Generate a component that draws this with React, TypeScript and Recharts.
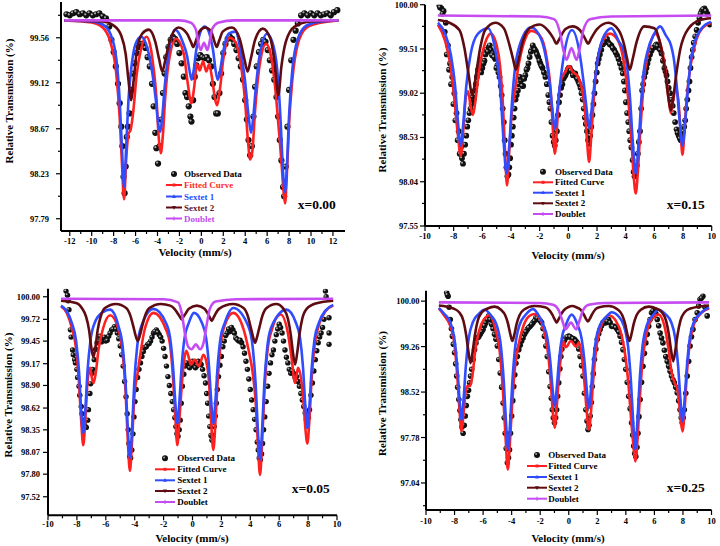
import React from 'react';
import { ComposedChart, Line, Scatter, XAxis, YAxis } from 'recharts';

type Pt = [number, number];

// ---------------- x = 0.00 (top left) ----------------
const obs000: Pt[] = [
  [-12.3, 99.79], [-12.0, 99.78], [-11.7, 99.8], [-11.4, 99.81], [-11.1, 99.79], [-10.8, 99.8], [-10.5, 99.78],
  [-10.2, 99.8], [-9.9, 99.78], [-9.6, 99.79], [-9.3, 99.8], [-9.0, 99.77], [-8.7, 99.75], [-8.4, 99.67],
  [-8.2, 99.54], [-8.0, 99.42], [-7.8, 99.28], [-7.6, 99.11], [-7.45, 98.92], [-7.3, 98.69], [-7.2, 98.5],
  [-7.1, 98.2], [-7.0, 98.04], [-6.9, 98.3], [-6.8, 98.59], [-6.7, 98.69], [-6.55, 98.82], [-6.4, 99.05],
  [-6.25, 99.21], [-6.1, 99.31], [-5.9, 99.41], [-5.7, 99.47], [-5.5, 99.5], [-5.3, 99.5], [-5.1, 99.46],
  [-4.9, 99.37], [-4.7, 99.28], [-4.5, 99.11], [-4.35, 98.89], [-4.2, 98.63], [-4.1, 98.48], [-3.95, 98.33],
  [-3.8, 98.5], [-3.65, 98.76], [-3.5, 99.02], [-3.35, 99.21], [-3.2, 99.37], [-3.0, 99.47], [-2.8, 99.54],
  [-2.6, 99.57], [-2.4, 99.55], [-2.2, 99.5], [-2.0, 99.41], [-1.8, 99.31], [-1.6, 99.18], [-1.45, 99.02],
  [-1.3, 98.98], [-1.15, 98.89], [-1.0, 98.79], [-0.9, 98.74], [-0.75, 98.95], [-0.6, 99.18], [-0.45, 99.29],
  [-0.3, 99.36], [-0.1, 99.39], [0.1, 99.37], [0.3, 99.36], [0.5, 99.37], [0.7, 99.34], [0.9, 99.28],
  [1.05, 99.11], [1.2, 98.98], [1.35, 98.82], [1.5, 98.82], [1.65, 99.02], [1.8, 99.21], [2.0, 99.41],
  [2.2, 99.5], [2.4, 99.55], [2.6, 99.57], [2.8, 99.55], [3.0, 99.5], [3.2, 99.44], [3.4, 99.36], [3.6, 99.28],
  [3.8, 99.15], [4.0, 98.95], [4.15, 98.76], [4.3, 98.56], [4.45, 98.41], [4.6, 98.5], [4.75, 98.79],
  [4.9, 99.08], [5.05, 99.28], [5.25, 99.42], [5.45, 99.5], [5.65, 99.54], [5.85, 99.52], [6.05, 99.44],
  [6.25, 99.34], [6.45, 99.24], [6.65, 99.15], [6.85, 98.98], [7.0, 98.79], [7.15, 98.56], [7.3, 98.36],
  [7.45, 98.1], [7.55, 98.01], [7.7, 98.3], [7.85, 98.69], [8.0, 99.05], [8.2, 99.34], [8.4, 99.54],
  [8.6, 99.63], [8.8, 99.7], [9.1, 99.78], [9.4, 99.8], [9.7, 99.78], [10.0, 99.8], [10.3, 99.78],
  [10.6, 99.8], [10.9, 99.78], [11.2, 99.79], [11.5, 99.8], [11.8, 99.78], [12.1, 99.81], [12.4, 99.83],
];
const obs000b: Pt[] = [];
const fit000: Pt[] = [
  [-12.5, 99.73], [-10, 99.71], [-9, 99.66], [-8.3, 99.52], [-7.75, 99.2], [-7.45, 98.78], [-7.25, 98.35],
  [-7.05, 97.98], [-6.85, 98.38], [-6.65, 98.62], [-6.45, 98.66], [-6.2, 98.85], [-5.9, 99.2], [-5.5, 99.45],
  [-5.0, 99.57], [-4.6, 99.45], [-4.4, 99.3], [-4.1, 98.98], [-3.9, 98.6], [-3.7, 98.43], [-3.5, 98.62],
  [-3.3, 98.97], [-3.0, 99.3], [-2.3, 99.55], [-1.6, 99.4], [-1.25, 99.12], [-0.9, 98.92], [-0.65, 99.08],
  [-0.4, 99.3], [-0.15, 99.24], [0.15, 99.33], [0.45, 99.23], [0.7, 99.3], [1.0, 99.15], [1.25, 98.96],
  [1.45, 98.9], [1.7, 99.06], [2.0, 99.35], [2.6, 99.56], [3.1, 99.52], [3.6, 99.3], [4.0, 98.92],
  [4.25, 98.55], [4.45, 98.37], [4.65, 98.45], [4.9, 98.85], [5.3, 99.28], [5.9, 99.5], [6.4, 99.35],
  [6.8, 99.0], [7.05, 98.68], [7.3, 98.35], [7.5, 98.05], [7.63, 97.94], [7.8, 98.22], [8.0, 98.72],
  [8.3, 99.15], [8.8, 99.5], [9.6, 99.66], [11, 99.71], [12.5, 99.73],
];
const sxa000: Pt[] = [
  [-12.5, 99.73], [-10, 99.72], [-9, 99.69], [-8.3, 99.6], [-7.75, 99.35], [-7.45, 98.95], [-7.25, 98.5],
  [-7.05, 98.1], [-6.85, 98.5], [-6.65, 98.95], [-6.35, 99.3], [-6.0, 99.5], [-5.5, 99.57], [-4.9, 99.45],
  [-4.45, 99.2], [-4.15, 98.95], [-3.97, 98.75], [-3.77, 98.64], [-3.57, 98.78], [-3.37, 99.05], [-3.0, 99.4],
  [-2.4, 99.64], [-1.7, 99.52], [-1.3, 99.38], [-1.05, 99.22], [-0.88, 99.15], [-0.7, 99.24], [-0.45, 99.45],
  [0.3, 99.67], [1.05, 99.45], [1.3, 99.24], [1.49, 99.15], [1.68, 99.22], [1.95, 99.4], [2.5, 99.6],
  [3.1, 99.62], [3.6, 99.42], [4.0, 99.12], [4.3, 98.8], [4.53, 98.63], [4.73, 98.78], [4.95, 99.05],
  [5.3, 99.38], [6.0, 99.6], [6.6, 99.47], [7.0, 99.15], [7.25, 98.7], [7.45, 98.25], [7.63, 98.05],
  [7.8, 98.3], [8.0, 98.8], [8.3, 99.25], [8.8, 99.55], [9.6, 99.68], [11, 99.72], [12.5, 99.73],
];
const sxb000: Pt[] = [
  [-12.5, 99.73], [-9, 99.72], [-8, 99.68], [-7.3, 99.58], [-6.9, 99.4], [-6.65, 99.15], [-6.41, 98.95],
  [-6.17, 99.15], [-5.9, 99.42], [-5.4, 99.6], [-4.8, 99.64], [-4.2, 99.52], [-3.85, 99.35], [-3.56, 99.23],
  [-3.27, 99.35], [-2.9, 99.52], [-2.1, 99.66], [-1.3, 99.6], [-0.95, 99.52], [-0.73, 99.47], [-0.5, 99.53],
  [-0.2, 99.62], [0.35, 99.66], [0.9, 99.62], [1.2, 99.52], [1.4, 99.47], [1.62, 99.53], [1.95, 99.62],
  [2.8, 99.66], [3.5, 99.55], [3.95, 99.34], [4.22, 99.23], [4.5, 99.35], [4.9, 99.54], [5.6, 99.65],
  [6.3, 99.55], [6.7, 99.3], [7.02, 99.0], [7.3, 99.28], [7.7, 99.52], [8.5, 99.67], [10, 99.72], [12.5, 99.73],
];
const dbl000: Pt[] = [
  [-12.5, 99.73], [-2, 99.73], [-1, 99.71], [-0.5, 99.64], [-0.25, 99.5], [-0.06, 99.44], [0.24, 99.51],
  [0.54, 99.44], [0.75, 99.52], [1.0, 99.65], [1.6, 99.71], [3, 99.73], [12.5, 99.73],
];
const yMaj000 = [97.79, 98.23, 98.67, 99.12, 99.56];
const yMin000 = [98.01, 98.45, 98.9, 99.34, 99.78];

// ---------------- x = 0.15 (top right) ----------------
const obs015: Pt[] = [
  [-9.0, 99.99], [-8.85, 99.96], [-8.7, 99.93], [-8.55, 99.8], [-8.4, 99.55], [-8.25, 99.35], [-8.1, 99.2],
  [-7.95, 99.02], [-7.8, 98.8], [-7.65, 98.6], [-7.5, 98.42], [-7.35, 98.24], [-7.2, 98.45], [-7.05, 98.65],
  [-6.9, 98.8], [-6.75, 98.9], [-6.6, 98.95], [-6.45, 99.12], [-6.3, 99.28], [-6.15, 99.38], [-6.0, 99.3],
  [-5.85, 99.38], [-5.7, 99.5], [-5.55, 99.53], [-5.4, 99.5], [-5.25, 99.46], [-5.1, 99.4], [-4.95, 99.33],
  [-4.8, 99.2], [-4.65, 99.0], [-4.5, 98.7], [-4.38, 98.35], [-4.25, 98.1], [-4.12, 98.2], [-4.0, 98.45],
  [-3.87, 98.65], [-3.75, 98.85], [-3.6, 99.0], [-3.45, 99.12], [-3.3, 99.16], [-3.15, 99.1], [-3.0, 99.22],
  [-2.85, 99.3], [-2.7, 99.42], [-2.55, 99.5], [-2.4, 99.52], [-2.25, 99.48], [-2.1, 99.42], [-1.95, 99.35],
  [-1.8, 99.3], [-1.6, 99.2], [-1.4, 99.0], [-1.25, 98.85], [-1.1, 98.55], [-0.95, 98.44], [-0.8, 98.6],
  [-0.65, 98.92], [-0.5, 99.08], [-0.35, 99.18], [-0.2, 99.22], [-0.05, 99.28], [0.1, 99.3], [0.25, 99.26],
  [0.4, 99.23], [0.55, 99.2], [0.7, 99.15], [0.85, 99.08], [1.0, 98.95], [1.15, 98.75], [1.3, 98.6],
  [1.45, 98.46], [1.6, 98.65], [1.75, 98.9], [1.9, 99.15], [2.05, 99.35], [2.2, 99.45], [2.4, 99.56],
  [2.6, 99.6], [2.8, 99.58], [3.0, 99.55], [3.2, 99.5], [3.4, 99.44], [3.6, 99.35], [3.8, 99.24],
  [3.95, 99.05], [4.1, 98.8], [4.25, 98.6], [4.4, 98.42], [4.55, 98.15], [4.7, 98.13], [4.85, 98.35],
  [5.0, 98.6], [5.15, 99.05], [5.3, 99.2], [5.45, 99.3], [5.6, 99.4], [5.8, 99.49], [6.0, 99.53],
  [6.15, 99.56], [6.3, 99.52], [6.5, 99.46], [6.7, 99.3], [6.85, 99.22], [7.0, 99.08], [7.2, 98.95],
  [7.35, 98.8], [7.55, 98.62], [7.7, 98.55], [7.85, 98.5], [8.0, 98.6], [8.15, 98.72], [8.3, 98.95],
  [8.45, 99.15], [8.6, 99.42], [8.75, 99.58], [8.95, 99.72], [9.15, 99.85], [9.3, 99.93], [9.5, 99.96],
  [9.7, 99.9], [9.87, 99.78],
];
const obs015b: Pt[] = [
  [-8.95, 99.97], [-8.78, 99.9], [-8.62, 99.7], [-8.48, 99.45], [-8.32, 99.28], [-8.18, 99.12], [-8.02, 98.9],
  [-7.88, 98.72], [-7.72, 98.5], [-7.58, 98.35], [-7.42, 98.3], [-7.28, 98.35], [-7.12, 98.55], [-6.98, 98.72],
  [-6.82, 98.85], [-6.68, 98.98], [-6.52, 99.05], [-6.38, 99.2], [-6.22, 99.32], [-6.08, 99.25], [-5.92, 99.35],
  [-5.78, 99.45], [-5.62, 99.48], [-5.48, 99.55], [-5.32, 99.44], [-5.18, 99.42], [-5.02, 99.3], [-4.88, 99.25],
  [-4.72, 99.1], [-4.58, 98.85], [-4.44, 98.5], [-4.32, 98.2], [-4.18, 98.12], [-4.06, 98.3], [-3.94, 98.55],
  [-3.81, 98.75], [-3.68, 98.95], [-3.52, 99.05], [-3.38, 99.2], [-3.22, 99.1], [-3.08, 99.18], [-2.92, 99.28],
  [-2.78, 99.35], [-2.62, 99.48], [-2.48, 99.55], [-2.32, 99.5], [-2.18, 99.45], [-2.02, 99.38], [-1.88, 99.32],
  [-1.7, 99.25], [-1.5, 99.12], [-1.32, 98.92], [-1.18, 98.7], [-1.02, 98.48], [-0.88, 98.5], [-0.72, 98.78],
  [-0.58, 99.0], [-0.42, 99.12], [-0.28, 99.2], [-0.12, 99.25], [0.02, 99.3], [0.18, 99.27], [0.32, 99.22],
  [0.48, 99.24], [0.62, 99.18], [0.78, 99.12], [0.92, 99.02], [1.08, 98.85], [1.22, 98.68], [1.38, 98.5],
  [1.52, 98.55], [1.68, 98.78], [1.82, 99.02], [1.98, 99.25], [2.12, 99.4], [2.3, 99.5], [2.5, 99.58],
  [2.7, 99.62], [2.9, 99.56], [3.1, 99.52], [3.3, 99.47], [3.5, 99.4], [3.7, 99.3], [3.88, 99.15],
  [4.02, 98.92], [4.18, 98.7], [4.32, 98.5], [4.48, 98.28], [4.62, 98.1], [4.78, 98.22], [4.92, 98.48],
  [5.08, 98.85], [5.22, 99.12], [5.38, 99.25], [5.52, 99.35], [5.7, 99.45], [5.9, 99.52], [6.08, 99.55],
  [6.22, 99.54], [6.4, 99.5], [6.6, 99.38], [6.78, 99.26], [6.92, 99.15], [7.1, 99.02], [7.28, 98.88],
  [7.45, 98.7], [7.62, 98.58], [7.78, 98.52], [7.92, 98.55], [8.08, 98.65], [8.22, 98.85], [8.38, 99.05],
  [8.52, 99.3], [8.68, 99.5], [8.85, 99.65], [9.05, 99.8], [9.22, 99.9], [9.4, 99.95], [9.6, 99.93],
];
const fit015: Pt[] = [
  [-9.1, 99.78], [-8.6, 99.6], [-8.25, 99.35], [-7.95, 98.95], [-7.72, 98.58], [-7.51, 98.33], [-7.32, 98.62],
  [-7.15, 98.98], [-7.0, 99.04], [-6.82, 98.88], [-6.65, 98.78], [-6.45, 98.98], [-6.2, 99.3], [-5.8, 99.58],
  [-5.4, 99.68], [-5.0, 99.55], [-4.75, 99.3], [-4.55, 98.85], [-4.42, 98.4], [-4.28, 98.0], [-4.12, 98.38],
  [-3.95, 98.8], [-3.75, 99.02], [-3.5, 99.3], [-3.1, 99.58], [-2.6, 99.71], [-2.0, 99.66], [-1.5, 99.4],
  [-1.2, 98.98], [-1.08, 98.62], [-0.94, 98.35], [-0.8, 98.62], [-0.68, 98.95], [-0.47, 99.19], [-0.24, 99.25],
  [0.05, 99.32], [0.33, 99.25], [0.6, 99.22], [0.9, 99.1], [1.15, 98.85], [1.3, 98.5], [1.45, 98.26],
  [1.6, 98.55], [1.75, 98.9], [1.96, 99.3], [2.4, 99.6], [2.9, 99.68], [3.4, 99.62], [3.82, 99.41],
  [4.15, 99.0], [4.4, 98.5], [4.55, 98.12], [4.7, 97.91], [4.85, 98.15], [5.0, 98.55], [5.3, 99.2],
  [5.7, 99.56], [6.05, 99.68], [6.4, 99.58], [6.75, 99.3], [7.0, 98.95], [7.15, 98.8], [7.32, 98.95],
  [7.5, 99.08], [7.7, 98.9], [7.83, 98.6], [7.96, 98.34], [8.1, 98.6], [8.25, 98.95], [8.5, 99.3],
  [8.94, 99.62], [9.4, 99.75], [9.98, 99.8],
];
const sxa015: Pt[] = [
  [-9.1, 99.8], [-8.6, 99.68], [-8.2, 99.45], [-7.9, 99.1], [-7.71, 98.72], [-7.51, 98.44], [-7.31, 98.72],
  [-7.12, 99.1], [-6.82, 99.45], [-6.3, 99.68], [-5.6, 99.74], [-5.1, 99.5], [-4.91, 99.31], [-4.71, 98.97],
  [-4.51, 98.47], [-4.31, 98.13], [-4.11, 98.47], [-3.91, 98.97], [-3.71, 99.31], [-3.4, 99.55], [-2.6, 99.75],
  [-1.9, 99.62], [-1.55, 99.4], [-1.3, 99.12], [-1.12, 98.85], [-0.94, 98.63], [-0.76, 98.85], [-0.58, 99.12],
  [-0.33, 99.42], [0.25, 99.72], [0.83, 99.42], [1.08, 99.12], [1.27, 98.85], [1.45, 98.63], [1.63, 98.85],
  [1.82, 99.12], [2.07, 99.42], [2.5, 99.66], [3.0, 99.74], [3.5, 99.6], [3.9, 99.47], [4.1, 99.31],
  [4.3, 98.97], [4.5, 98.47], [4.7, 98.13], [4.9, 98.47], [5.1, 98.97], [5.3, 99.31], [5.5, 99.47],
  [6.0, 99.68], [6.4, 99.76], [6.8, 99.66], [7.16, 99.55], [7.36, 99.4], [7.56, 99.1], [7.76, 98.72],
  [7.96, 98.44], [8.16, 98.72], [8.36, 99.1], [8.56, 99.4], [8.76, 99.55], [9.3, 99.74], [9.95, 99.81],
];
const sxb015: Pt[] = [
  [-9.1, 99.83], [-8.3, 99.8], [-7.6, 99.72], [-7.25, 99.52], [-6.98, 99.25], [-6.7, 99.0], [-6.42, 99.25],
  [-6.15, 99.52], [-5.8, 99.72], [-5.1, 99.8], [-4.5, 99.74], [-4.1, 99.55], [-3.86, 99.4], [-3.66, 99.28],
  [-3.46, 99.4], [-3.2, 99.58], [-2.7, 99.74], [-2.0, 99.78], [-1.4, 99.71], [-1.05, 99.63], [-0.83, 99.57],
  [-0.6, 99.63], [-0.2, 99.73], [0.3, 99.76], [0.8, 99.72], [1.15, 99.63], [1.38, 99.57], [1.6, 99.63],
  [2.0, 99.73], [2.8, 99.8], [3.5, 99.72], [3.9, 99.55], [4.1, 99.4], [4.29, 99.28], [4.49, 99.4],
  [4.75, 99.58], [5.3, 99.76], [6.0, 99.74], [6.5, 99.5], [6.78, 99.22], [6.98, 98.97], [7.15, 98.83],
  [7.32, 98.97], [7.52, 99.22], [7.8, 99.5], [8.4, 99.74], [9.2, 99.83], [9.95, 99.85],
];
const dbl015: Pt[] = [
  [-9.1, 99.88], [-2, 99.87], [-1.0, 99.84], [-0.6, 99.7], [-0.35, 99.5], [-0.13, 99.39], [0.22, 99.52],
  [0.57, 99.39], [0.8, 99.52], [1.05, 99.72], [1.5, 99.84], [3, 99.87], [9.98, 99.88],
];
const yMaj015 = [97.55, 98.04, 98.53, 99.02, 99.51, 100.0];
const yMin015 = [97.8, 98.29, 98.78, 99.27, 99.76];

// ---------------- x = 0.05 (bottom left) ----------------
const obs005: Pt[] = [
  [-8.75, 100.07], [-8.65, 100.02], [-8.55, 99.84], [-8.45, 99.59], [-8.3, 99.34], [-8.15, 99.22], [-8.0, 99.1],
  [-7.85, 98.89], [-7.7, 98.64], [-7.55, 98.47], [-7.4, 98.39], [-7.25, 98.47], [-7.1, 98.8], [-6.95, 99.05],
  [-6.8, 99.22], [-6.6, 99.43], [-6.4, 99.51], [-6.2, 99.49], [-6.0, 99.45], [-5.8, 99.51], [-5.6, 99.59],
  [-5.4, 99.63], [-5.2, 99.55], [-5.0, 99.39], [-4.8, 99.14], [-4.6, 98.76], [-4.45, 98.35], [-4.35, 98.02],
  [-4.2, 98.1], [-4.05, 98.51], [-3.9, 98.85], [-3.7, 99.1], [-3.5, 99.26], [-3.3, 99.37], [-3.1, 99.41],
  [-2.9, 99.45], [-2.7, 99.55], [-2.5, 99.59], [-2.3, 99.53], [-2.1, 99.45], [-1.9, 99.26], [-1.7, 99.01],
  [-1.5, 98.8], [-1.3, 98.6], [-1.15, 98.39], [-1.0, 98.27], [-0.85, 98.47], [-0.7, 98.89], [-0.5, 99.14],
  [-0.3, 99.16], [-0.1, 99.14], [0.1, 99.18], [0.3, 99.14], [0.5, 99.18], [0.7, 99.1], [0.9, 98.93],
  [1.05, 98.68], [1.2, 98.39], [1.35, 98.22], [1.5, 98.39], [1.65, 98.68], [1.8, 99.01], [2.0, 99.26],
  [2.2, 99.45], [2.4, 99.55], [2.6, 99.57], [2.8, 99.59], [3.0, 99.49], [3.2, 99.45], [3.4, 99.43],
  [3.6, 99.3], [3.8, 99.1], [4.0, 98.85], [4.2, 98.6], [4.4, 98.35], [4.55, 98.1], [4.7, 97.98],
  [4.85, 98.18], [5.0, 98.51], [5.2, 98.89], [5.4, 99.18], [5.6, 99.34], [5.8, 99.53], [6.0, 99.66],
  [6.2, 99.55], [6.4, 99.34], [6.6, 99.18], [6.8, 99.05], [7.0, 99.05], [7.2, 99.01], [7.4, 98.89],
  [7.6, 98.72], [7.8, 98.56], [7.95, 98.43], [8.1, 98.6], [8.3, 98.93], [8.5, 99.22], [8.7, 99.43],
  [8.9, 99.55], [9.1, 99.72], [9.2, 100.07], [9.25, 100.0], [9.45, 99.74], [9.45, 99.55], [9.45, 99.41],
];
const obs005b: Pt[] = [
  [-8.6, 99.95], [-8.4, 99.5], [-8.25, 99.28], [-8.1, 99.18], [-7.95, 99.0], [-7.8, 98.78], [-7.65, 98.55],
  [-7.5, 98.42], [-7.35, 98.38], [-7.2, 98.6], [-7.05, 98.92], [-6.9, 99.1], [-6.7, 99.35], [-6.5, 99.45],
  [-6.3, 99.44], [-6.1, 99.5], [-5.9, 99.46], [-5.7, 99.55], [-5.5, 99.6], [-5.3, 99.6], [-5.1, 99.48],
  [-4.9, 99.28], [-4.7, 98.95], [-4.52, 98.55], [-4.4, 98.18], [-4.28, 98.0], [-4.12, 98.3], [-3.98, 98.7],
  [-3.8, 99.0], [-3.6, 99.18], [-3.4, 99.32], [-3.2, 99.38], [-3.0, 99.42], [-2.8, 99.5], [-2.6, 99.57],
  [-2.4, 99.56], [-2.2, 99.5], [-2.0, 99.36], [-1.8, 99.14], [-1.6, 98.9], [-1.4, 98.7], [-1.22, 98.5],
  [-1.08, 98.3], [-0.92, 98.35], [-0.78, 98.68], [-0.6, 99.04], [-0.4, 99.18], [-0.2, 99.12], [0.0, 99.2],
  [0.2, 99.12], [0.4, 99.2], [0.6, 99.16], [0.8, 99.02], [0.98, 98.8], [1.12, 98.52], [1.28, 98.28],
  [1.42, 98.28], [1.58, 98.52], [1.72, 98.85], [1.9, 99.15], [2.1, 99.38], [2.3, 99.52], [2.5, 99.6],
  [2.7, 99.62], [2.9, 99.55], [3.1, 99.47], [3.3, 99.46], [3.5, 99.38], [3.7, 99.2], [3.9, 98.98],
  [4.1, 98.72], [4.3, 98.48], [4.48, 98.2], [4.62, 98.0], [4.78, 98.05], [4.92, 98.35], [5.1, 98.7],
  [5.3, 99.05], [5.5, 99.28], [5.7, 99.45], [5.9, 99.6], [6.1, 99.62], [6.3, 99.45], [6.5, 99.25],
  [6.7, 99.1], [6.9, 99.08], [7.1, 99.0], [7.3, 98.95], [7.5, 98.8], [7.7, 98.64], [7.88, 98.48],
  [8.02, 98.5], [8.2, 98.78], [8.4, 99.08], [8.6, 99.33], [8.8, 99.5], [9.0, 99.62],
];
const fit005: Pt[] = [
  [-9.1, 99.88], [-8.7, 99.8], [-8.36, 99.62], [-8.06, 99.36], [-7.86, 98.95], [-7.71, 98.48], [-7.56, 98.16],
  [-7.41, 98.5], [-7.25, 98.98], [-7.08, 99.12], [-6.95, 98.98], [-6.85, 98.93], [-6.7, 99.05], [-6.5, 99.35],
  [-6.2, 99.6], [-5.7, 99.77], [-5.13, 99.6], [-4.83, 99.3], [-4.63, 98.82], [-4.48, 98.22], [-4.33, 97.84],
  [-4.18, 98.22], [-4.03, 98.75], [-3.8, 99.05], [-3.6, 99.3], [-3.3, 99.6], [-2.7, 99.8], [-1.85, 99.6],
  [-1.55, 99.4], [-1.35, 99.0], [-1.2, 98.55], [-1.05, 98.16], [-0.9, 98.5], [-0.72, 98.95], [-0.55, 99.25],
  [-0.42, 99.33], [-0.1, 99.16], [0.15, 99.22], [0.45, 99.14], [0.75, 99.28], [0.95, 99.2], [1.14, 98.95],
  [1.29, 98.45], [1.44, 98.1], [1.59, 98.45], [1.74, 98.95], [1.94, 99.4], [2.24, 99.65], [2.82, 99.8],
  [3.53, 99.6], [3.87, 99.35], [4.17, 99.05], [4.37, 98.7], [4.52, 98.2], [4.67, 97.79], [4.82, 98.2],
  [4.97, 98.8], [5.17, 99.3], [5.47, 99.58], [6.1, 99.78], [6.6, 99.55], [6.85, 99.25], [7.1, 98.93],
  [7.3, 99.12], [7.5, 99.0], [7.7, 98.65], [7.82, 98.35], [7.95, 98.18], [8.1, 98.5], [8.25, 99.0],
  [8.45, 99.4], [8.75, 99.65], [9.2, 99.82], [9.74, 99.89],
];
const sxa005: Pt[] = [
  [-9.1, 99.89], [-8.7, 99.82], [-8.36, 99.68], [-8.06, 99.46], [-7.86, 99.09], [-7.71, 98.62], [-7.56, 98.31],
  [-7.41, 98.62], [-7.26, 99.09], [-7.06, 99.46], [-6.76, 99.68], [-6.2, 99.81], [-5.7, 99.84], [-5.13, 99.64],
  [-4.83, 99.38], [-4.63, 98.93], [-4.48, 98.37], [-4.33, 98.0], [-4.18, 98.37], [-4.03, 98.93], [-3.83, 99.38],
  [-3.53, 99.64], [-2.7, 99.85], [-1.85, 99.68], [-1.55, 99.49], [-1.35, 99.14], [-1.2, 98.72], [-1.05, 98.43],
  [-0.9, 98.72], [-0.75, 99.14], [-0.55, 99.49], [-0.25, 99.68], [0.1, 99.8], [0.64, 99.68], [0.94, 99.49],
  [1.14, 99.14], [1.29, 98.72], [1.44, 98.43], [1.59, 98.72], [1.74, 99.14], [1.94, 99.49], [2.24, 99.68],
  [2.82, 99.86], [3.87, 99.63], [4.17, 99.37], [4.37, 98.92], [4.52, 98.36], [4.67, 97.98], [4.82, 98.36],
  [4.97, 98.92], [5.17, 99.37], [5.47, 99.63], [6.5, 99.84], [7.15, 99.68], [7.45, 99.48], [7.65, 99.12],
  [7.8, 98.67], [7.95, 98.37], [8.1, 98.67], [8.25, 99.12], [8.45, 99.48], [8.75, 99.68], [9.2, 99.83],
  [9.74, 99.9],
];
const sxb005: Pt[] = [
  [-9.1, 99.95], [-8.0, 99.92], [-7.66, 99.86], [-7.36, 99.75], [-7.16, 99.59], [-7.01, 99.38], [-6.86, 99.25],
  [-6.71, 99.38], [-6.56, 99.59], [-6.36, 99.75], [-6.06, 99.86], [-5.3, 99.91], [-4.59, 99.86], [-4.29, 99.76],
  [-4.09, 99.63], [-3.94, 99.52], [-3.79, 99.45], [-3.64, 99.52], [-3.49, 99.63], [-3.29, 99.76], [-2.99, 99.86],
  [-2.2, 99.91], [-1.55, 99.89], [-1.25, 99.85], [-1.05, 99.8], [-0.9, 99.76], [-0.75, 99.72], [-0.6, 99.76],
  [-0.45, 99.8], [-0.25, 99.85], [0.3, 99.89], [0.83, 99.85], [1.03, 99.8], [1.18, 99.75], [1.33, 99.7],
  [1.48, 99.75], [1.63, 99.8], [1.83, 99.85], [2.8, 99.91], [3.53, 99.86], [3.83, 99.76], [4.03, 99.62],
  [4.18, 99.51], [4.33, 99.43], [4.48, 99.51], [4.63, 99.62], [4.83, 99.76], [5.13, 99.86], [5.8, 99.91],
  [6.3, 99.85], [6.6, 99.73], [6.8, 99.53], [6.95, 99.31], [7.1, 99.16], [7.25, 99.31], [7.4, 99.53],
  [7.6, 99.73], [7.9, 99.85], [8.6, 99.92], [9.74, 99.95],
];
const dbl005: Pt[] = [
  [-9.1, 99.975], [-2, 99.97], [-1.0, 99.93], [-0.75, 99.8], [-0.5, 99.52], [-0.3, 99.38], [-0.06, 99.35],
  [0.23, 99.41], [0.52, 99.35], [0.75, 99.42], [0.95, 99.62], [1.2, 99.85], [1.6, 99.94], [3, 99.97],
  [9.74, 99.975],
];
const yMaj005 = [97.52, 97.8, 98.07, 98.35, 98.62, 98.9, 99.17, 99.45, 99.72, 100.0];
const yMin005: number[] = [];

// ---------------- x = 0.25 (bottom right) ----------------
const obs025: Pt[] = [
  [-8.55, 100.14], [-8.45, 100.08], [-8.3, 99.7], [-8.15, 99.43], [-8.0, 99.16], [-7.85, 98.78], [-7.7, 98.4],
  [-7.55, 98.07], [-7.4, 97.85], [-7.25, 98.13], [-7.1, 98.45], [-6.95, 98.67], [-6.8, 98.89], [-6.6, 99.21],
  [-6.4, 99.4], [-6.2, 99.46], [-6.0, 99.54], [-5.8, 99.65], [-5.6, 99.76], [-5.4, 99.62], [-5.2, 99.46],
  [-5.0, 99.27], [-4.8, 98.83], [-4.6, 98.34], [-4.45, 97.85], [-4.3, 97.37], [-4.15, 97.58], [-4.0, 98.13],
  [-3.85, 98.61], [-3.7, 98.99], [-3.5, 99.21], [-3.3, 99.35], [-3.1, 99.46], [-2.9, 99.54], [-2.7, 99.59],
  [-2.5, 99.65], [-2.3, 99.73], [-2.1, 99.7], [-1.9, 99.65], [-1.7, 99.43], [-1.5, 99.1], [-1.3, 98.61],
  [-1.15, 98.23], [-1.0, 98.02], [-0.85, 98.23], [-0.7, 98.67], [-0.55, 99.1], [-0.4, 99.32], [-0.2, 99.4],
  [0.0, 99.43], [0.2, 99.4], [0.4, 99.38], [0.6, 99.32], [0.8, 99.1], [1.0, 98.78], [1.2, 98.23],
  [1.35, 97.91], [1.5, 98.13], [1.65, 98.61], [1.8, 99.05], [2.0, 99.38], [2.2, 99.54], [2.4, 99.65],
  [2.6, 99.65], [2.8, 99.7], [3.0, 99.59], [3.2, 99.59], [3.4, 99.54], [3.6, 99.43], [3.8, 99.21],
  [4.0, 98.89], [4.2, 98.45], [4.4, 98.02], [4.55, 97.64], [4.7, 97.47], [4.85, 97.85], [5.0, 98.4],
  [5.2, 98.94], [5.4, 99.32], [5.6, 99.59], [5.8, 99.81], [6.0, 99.86], [6.2, 99.7], [6.4, 99.48],
  [6.6, 99.32], [6.8, 99.1], [7.0, 98.94], [7.2, 98.78], [7.4, 98.67], [7.6, 98.51], [7.8, 98.23],
  [7.95, 98.02], [8.1, 98.23], [8.3, 98.78], [8.5, 99.27], [8.7, 99.54], [9.0, 99.81], [9.2, 100.03],
  [9.4, 100.08], [9.7, 99.76],
];
const obs025b: Pt[] = [
  [-8.5, 100.1], [-8.38, 99.9], [-8.22, 99.55], [-8.08, 99.3], [-7.92, 98.98], [-7.78, 98.6], [-7.62, 98.22],
  [-7.48, 97.95], [-7.32, 97.98], [-7.18, 98.3], [-7.02, 98.55], [-6.88, 98.78], [-6.7, 99.05], [-6.5, 99.32],
  [-6.3, 99.42], [-6.1, 99.5], [-5.9, 99.6], [-5.7, 99.7], [-5.5, 99.7], [-5.3, 99.55], [-5.1, 99.38],
  [-4.9, 99.05], [-4.7, 98.6], [-4.52, 98.1], [-4.38, 97.6], [-4.22, 97.45], [-4.08, 97.85], [-3.92, 98.38],
  [-3.78, 98.8], [-3.6, 99.1], [-3.4, 99.28], [-3.2, 99.4], [-3.0, 99.5], [-2.8, 99.57], [-2.6, 99.62],
  [-2.4, 99.68], [-2.2, 99.72], [-2.0, 99.68], [-1.8, 99.55], [-1.6, 99.27], [-1.4, 98.85], [-1.22, 98.42],
  [-1.08, 98.1], [-0.92, 98.1], [-0.78, 98.45], [-0.62, 98.9], [-0.48, 99.22], [-0.3, 99.36], [-0.1, 99.42],
  [0.1, 99.42], [0.3, 99.39], [0.5, 99.35], [0.7, 99.22], [0.9, 98.95], [1.1, 98.5], [1.28, 98.05],
  [1.42, 97.98], [1.58, 98.35], [1.72, 98.82], [1.9, 99.22], [2.1, 99.47], [2.3, 99.6], [2.5, 99.65],
  [2.7, 99.67], [2.9, 99.65], [3.1, 99.59], [3.3, 99.57], [3.5, 99.5], [3.7, 99.33], [3.9, 99.05],
  [4.1, 98.68], [4.3, 98.25], [4.48, 97.82], [4.62, 97.52], [4.78, 97.62], [4.92, 98.12], [5.1, 98.68],
  [5.3, 99.15], [5.5, 99.46], [5.7, 99.7], [5.9, 99.84], [6.1, 99.8], [6.3, 99.6], [6.5, 99.4],
  [6.7, 99.2], [6.9, 99.02], [7.1, 98.86], [7.3, 98.72], [7.5, 98.6], [7.7, 98.38], [7.88, 98.1],
  [8.02, 98.1], [8.2, 98.5], [8.4, 99.02], [8.6, 99.42], [8.85, 99.7], [9.1, 99.92], [9.3, 100.05],
  [9.55, 99.9],
];
const fit025: Pt[] = [
  [-9.1, 99.88], [-8.71, 99.76], [-8.31, 99.6], [-8.01, 99.3], [-7.81, 98.78], [-7.66, 98.25], [-7.51, 97.88],
  [-7.36, 98.2], [-7.21, 98.55], [-7.05, 98.62], [-6.9, 98.62], [-6.73, 98.82], [-6.55, 99.2], [-6.3, 99.5],
  [-5.95, 99.7], [-5.55, 99.77], [-5.15, 99.55], [-4.8, 99.1], [-4.6, 98.5], [-4.42, 97.75], [-4.27, 97.26],
  [-4.12, 97.7], [-3.97, 98.3], [-3.8, 98.85], [-3.55, 99.25], [-3.2, 99.58], [-2.8, 99.75], [-2.4, 99.79],
  [-2.0, 99.7], [-1.7, 99.5], [-1.45, 99.15], [-1.27, 98.7], [-1.12, 98.22], [-0.99, 97.94], [-0.85, 98.25],
  [-0.7, 98.75], [-0.52, 99.15], [-0.4, 99.35], [-0.2, 99.25], [0.15, 99.35], [0.5, 99.26], [0.72, 99.33],
  [0.91, 99.12], [1.11, 98.65], [1.26, 98.2], [1.41, 97.91], [1.56, 98.2], [1.71, 98.7], [1.91, 99.2],
  [2.21, 99.55], [2.8, 99.77], [3.3, 99.68], [3.7, 99.45], [4.0, 99.05], [4.2, 98.6], [4.36, 98.1],
  [4.51, 97.7], [4.66, 97.39], [4.81, 97.72], [4.96, 98.35], [5.16, 99.0], [5.46, 99.48], [5.86, 99.72],
  [6.3, 99.78], [6.7, 99.6], [7.0, 99.2], [7.2, 98.85], [7.4, 98.68], [7.6, 98.58], [7.75, 98.3],
  [7.85, 98.05], [7.97, 97.88], [8.12, 98.25], [8.27, 98.8], [8.47, 99.3], [8.77, 99.62], [9.17, 99.78],
  [9.83, 99.88],
];
const sxa025: Pt[] = [
  [-9.1, 99.89], [-8.71, 99.79], [-8.31, 99.66], [-8.01, 99.39], [-7.81, 98.94], [-7.66, 98.43], [-7.51, 98.07],
  [-7.36, 98.43], [-7.21, 98.94], [-7.01, 99.39], [-6.71, 99.66], [-6.31, 99.79], [-5.9, 99.86], [-5.45, 99.77],
  [-5.05, 99.61], [-4.75, 99.26], [-4.55, 98.69], [-4.4, 98.05], [-4.25, 97.59], [-4.1, 98.05], [-3.95, 98.69],
  [-3.75, 99.26], [-3.45, 99.61], [-3.05, 99.77], [-2.5, 99.87], [-2.19, 99.8], [-1.79, 99.62], [-1.49, 99.39],
  [-1.29, 99.01], [-1.14, 98.59], [-0.99, 98.29], [-0.84, 98.59], [-0.69, 99.01], [-0.49, 99.39], [-0.19, 99.62],
  [0.2, 99.78], [0.61, 99.62], [0.91, 99.38], [1.11, 99.0], [1.26, 98.57], [1.41, 98.26], [1.56, 98.57],
  [1.71, 99.0], [1.91, 99.38], [2.21, 99.62], [2.61, 99.74], [3.0, 99.82], [3.46, 99.76], [3.86, 99.6],
  [4.16, 99.25], [4.36, 98.68], [4.51, 98.05], [4.66, 97.59], [4.81, 98.05], [4.96, 98.68], [5.16, 99.25],
  [5.46, 99.6], [5.86, 99.76], [6.3, 99.86], [6.77, 99.79], [7.17, 99.66], [7.47, 99.38], [7.67, 98.92],
  [7.82, 98.41], [7.97, 98.04], [8.12, 98.41], [8.27, 98.92], [8.47, 99.38], [8.77, 99.66], [9.17, 99.79],
  [9.83, 99.9],
];
const sxb025: Pt[] = [
  [-9.1, 99.93], [-8.08, 99.88], [-7.68, 99.82], [-7.38, 99.68], [-7.18, 99.44], [-7.03, 99.18], [-6.88, 98.99],
  [-6.73, 99.18], [-6.58, 99.44], [-6.38, 99.68], [-6.08, 99.82], [-5.68, 99.88], [-5.2, 99.91], [-4.75, 99.86],
  [-4.45, 99.77], [-4.25, 99.63], [-4.1, 99.47], [-3.95, 99.35], [-3.8, 99.47], [-3.65, 99.63], [-3.45, 99.77],
  [-3.15, 99.86], [-2.4, 99.92], [-1.65, 99.9], [-1.35, 99.85], [-1.15, 99.78], [-1.0, 99.71], [-0.85, 99.65],
  [-0.7, 99.71], [-0.55, 99.78], [-0.35, 99.85], [-0.05, 99.9], [0.25, 99.92], [0.54, 99.9], [0.84, 99.86],
  [1.04, 99.79], [1.19, 99.72], [1.34, 99.67], [1.49, 99.72], [1.64, 99.79], [1.84, 99.86], [2.14, 99.9],
  [2.8, 99.92], [3.45, 99.86], [3.75, 99.77], [3.95, 99.63], [4.1, 99.47], [4.25, 99.35], [4.4, 99.47],
  [4.55, 99.63], [4.75, 99.77], [5.05, 99.86], [5.6, 99.91], [6.12, 99.88], [6.52, 99.82], [6.82, 99.68],
  [7.02, 99.45], [7.17, 99.2], [7.32, 99.02], [7.47, 99.2], [7.62, 99.45], [7.82, 99.68], [8.12, 99.82],
  [8.52, 99.88], [9.83, 99.93],
];
const dbl025: Pt[] = [
  [-9.1, 99.98], [-2, 99.97], [-1.1, 99.94], [-0.7, 99.85], [-0.45, 99.68], [-0.22, 99.54], [0.15, 99.65],
  [0.52, 99.54], [0.75, 99.68], [1.0, 99.85], [1.4, 99.94], [2.5, 99.97], [9.83, 99.98],
];
const yMaj025 = [97.04, 97.78, 98.52, 99.26, 100.0];
const yMin025 = [96.67, 97.41, 98.15, 98.89, 99.63];

const xMaj12 = [-12, -10, -8, -6, -4, -2, 0, 2, 4, 6, 8, 10, 12];
const xMin12 = [-11, -9, -7, -5, -3, -1, 1, 3, 5, 7, 9, 11];
const xMaj10 = [-10, -8, -6, -4, -2, 0, 2, 4, 6, 8, 10];
const xMin10 = [-9, -7, -5, -3, -1, 1, 3, 5, 7, 9];

const seriesNames = ['Observed Data', 'Fitted Curve', 'Sextet 1', 'Sextet 2', 'Doublet'];
const COLORS = { fit: '#ff2020', s1: '#2f4cff', s2: '#5e0c12', dbl: '#c64cf2' };
const legendTextColors = ['#000', '#ff2a2a', '#2a4cff', '#6a1426', '#c24cf0'];

const FONT = '"Liberation Serif", "Times New Roman", serif';
const rows = (pts: Pt[]) => pts.map(([v, t]) => ({ v, t }));

interface PanelCfg {
  left: number; top: number; top0: number; right: number; yW: number; xH: number;
  xDom: [number, number]; yDom: [number, number];
  xMaj: number[]; xMin: number[]; yMaj: number[]; yMin: number[];
  obs: Pt[]; fit: Pt[]; s1: Pt[]; s2: Pt[]; dbl: Pt[];
  xGap: number; yGap: number; dotR: number;
}

const panels: PanelCfg[] = [
  { left: 0, top: 0, top0: 2, right: 15, yW: 61, xH: 42, xDom: [-12.8, 13.1], yDom: [97.67, 99.91],
    xMaj: xMaj12, xMin: xMin12, yMaj: yMaj000, yMin: yMin000,
    obs: [...obs000, ...obs000b], fit: fit000, s1: sxa000, s2: sxb000, dbl: dbl000, xGap: 10, yGap: 12, dotR: 3.1 },
  { left: 360, top: 0, top0: 4.7, right: 8.3, yW: 65, xH: 47, xDom: [-10, 10], yDom: [97.55, 100.0],
    xMaj: xMaj10, xMin: xMin10, yMaj: yMaj015, yMin: yMin015,
    obs: [...obs015, ...obs015b], fit: fit015, s1: sxa015, s2: sxb015, dbl: dbl015, xGap: 9.5, yGap: 7, dotR: 2.9 },
  { left: 0, top: 273, top0: 15.7, right: 23, yW: 48, xH: 30.7, xDom: [-10, 10], yDom: [97.29, 100.1],
    xMaj: xMaj10, xMin: xMin10, yMaj: yMaj005, yMin: yMin005,
    obs: [...obs005, ...obs005b], fit: fit005, s1: sxa005, s2: sxb005, dbl: dbl005, xGap: 8.5, yGap: 8, dotR: 2.7 },
  { left: 360, top: 273, top0: 17.7, right: 8.5, yW: 66, xH: 36, xDom: [-10, 10], yDom: [96.6, 100.17],
    xMaj: xMaj10, xMin: xMin10, yMaj: yMaj025, yMin: yMin025,
    obs: [...obs025, ...obs025b], fit: fit025, s1: sxa025, s2: sxb025, dbl: dbl025, xGap: 11, yGap: 6.5, dotR: 2.8 },
];

const tickText: React.CSSProperties = { fontFamily: FONT, fontWeight: 700, fontSize: 8.5, fill: '#000' };

const makeDot = (r: number) => (p: any) => (
  <g>
    <circle cx={p.cx} cy={p.cy} r={r} fill="#111" />
    <circle cx={p.cx - r * 0.32} cy={p.cy - r * 0.32} r={r * 0.36} fill="#a8a8a8" />
  </g>
);

function Panel({ c }: { c: PanelCfg }) {
  const xTicks = [...c.xMaj, ...c.xMin].sort((a, b) => a - b);
  const yTicks = [...c.yMaj, ...c.yMin].sort((a, b) => a - b);
  const xTick = (p: any) => {
    const v = p.payload.value;
    const major = c.xMaj.includes(v);
    return (
      <g>
        <line x1={p.x} x2={p.x} y1={p.y} y2={p.y + (major ? 5 : 3)} stroke="#000" strokeWidth={1.2} />
        {major && (
          <text x={p.x} y={p.y + c.xGap} textAnchor="middle" dominantBaseline="central" style={tickText}>{v}</text>
        )}
      </g>
    );
  };
  const yTick = (p: any) => {
    const v = p.payload.value;
    const major = c.yMaj.includes(v);
    return (
      <g>
        <line x1={p.x - (major ? 5 : 3)} x2={p.x} y1={p.y} y2={p.y} stroke="#000" strokeWidth={1.2} />
        {major && (
          <text x={p.x - c.yGap} y={p.y} textAnchor="end" dominantBaseline="central" style={tickText}>
            {v.toFixed(2)}
          </text>
        )}
      </g>
    );
  };
  const axisLine = { stroke: '#000', strokeWidth: 2 };
  const lw = 2.6;
  return (
    <div style={{ position: 'absolute', left: c.left, top: c.top, width: 360, height: 273 }}>
      <ComposedChart width={360} height={273} margin={{ top: c.top0, right: c.right, bottom: 0, left: 0 }}>
        <XAxis dataKey="v" type="number" domain={c.xDom} ticks={xTicks} interval={0} allowDataOverflow
          height={c.xH} tickSize={0} tickMargin={0} tickLine={false} axisLine={axisLine} tick={xTick} />
        <XAxis xAxisId="top" orientation="top" type="number" domain={[0, 1]} height={0} tick={false}
          tickLine={false} axisLine={axisLine} />
        <YAxis type="number" domain={c.yDom} ticks={yTicks} interval={0} allowDataOverflow width={c.yW}
          tickSize={0} tickMargin={0} tickLine={false} axisLine={axisLine} tick={yTick} />
        <YAxis yAxisId="right" orientation="right" type="number" domain={[0, 1]} width={0} tick={false}
          tickLine={false} axisLine={axisLine} />
        <Scatter data={rows(c.obs)} dataKey="t" shape={makeDot(c.dotR)} isAnimationActive={false}
          {...({ zIndex: 350 } as any)} />
        <Line data={rows(c.fit)} dataKey="t" type="monotone" stroke={COLORS.fit} strokeWidth={lw} dot={false}
          isAnimationActive={false} />
        <Line data={rows(c.s1)} dataKey="t" type="monotone" stroke={COLORS.s1} strokeWidth={lw} dot={false}
          isAnimationActive={false} />
        <Line data={rows(c.s2)} dataKey="t" type="monotone" stroke={COLORS.s2} strokeWidth={lw} dot={false}
          isAnimationActive={false} />
        <Line data={rows(c.dbl)} dataKey="t" type="monotone" stroke={COLORS.dbl} strokeWidth={lw} dot={false}
          isAnimationActive={false} />
      </ComposedChart>
    </div>
  );
}

interface Deco {
  xt: [number, number]; yt: [number, number];
  lx1: number; lx2: number; tx: number; rows: number[];
  label: string; lbx: number; lby: number; colored: boolean;
}

const decos: Deco[] = [
  { xt: [195, 252], yt: [8.5, 101], lx1: 166, lx2: 182, tx: 184, rows: [174, 185, 196.5, 207.5, 218.5],
    label: 'x=0.00', lbx: 297.7, lby: 204, colored: true },
  { xt: [568, 255], yt: [382, 110], lx1: 533, lx2: 553, tx: 555, rows: [171.7, 182.3, 192.7, 203.3, 214],
    label: 'x=0.15', lbx: 666.7, lby: 204, colored: false },
  { xt: [192, 538], yt: [8, 395], lx1: 155, lx2: 175, tx: 177.3, rows: [458.3, 469.3, 480.3, 491, 502],
    label: 'x=0.05', lbx: 291.7, lby: 488.3, colored: false },
  { xt: [568, 538], yt: [382, 393.5], lx1: 527, lx2: 547, tx: 548.3, rows: [455, 466, 477, 487.7, 498.7],
    label: 'x=0.25', lbx: 666.7, lby: 487, colored: false },
];

const lineColors = [COLORS.fit, COLORS.s1, COLORS.s2, COLORS.dbl];

function Marker({ i, x, y }: { i: number; x: number; y: number }) {
  const col = lineColors[i];
  if (i === 0) return <rect x={x - 1.5} y={y - 1.5} width={3} height={3} fill={col} />;
  if (i === 1) return <path d={`M${x},${y - 2.2}L${x + 2},${y + 1.4}L${x - 2},${y + 1.4}Z`} fill={col} />;
  if (i === 2) return <path d={`M${x},${y + 2.2}L${x + 2},${y - 1.4}L${x - 2},${y - 1.4}Z`} fill={col} />;
  return <path d={`M${x - 2},${y}L${x + 2},${y}M${x},${y - 2}L${x},${y + 2}`} stroke={col} strokeWidth={1} />;
}

function Overlay() {
  const base: React.CSSProperties = { fontFamily: FONT, fontWeight: 700, fill: '#000' };
  return (
    <svg width={720} height={546} style={{ position: 'absolute', left: 0, top: 0, pointerEvents: 'none' }}>
      {decos.map((d, k) => (
        <g key={k}>
          <text x={d.xt[0]} y={d.xt[1]} textAnchor="middle" dominantBaseline="central" style={{ ...base, fontSize: 11 }}>
            Velocity (mm/s)
          </text>
          <text x={d.yt[0]} y={d.yt[1]} textAnchor="middle" dominantBaseline="central"
            transform={`rotate(-90 ${d.yt[0]} ${d.yt[1]})`} style={{ ...base, fontSize: 11 }}>
            Relative Transmission (%)
          </text>
          {seriesNames.map((name, i) => {
            const y = d.rows[i];
            const mid = (d.lx1 + d.lx2) / 2;
            return (
              <g key={name}>
                {i === 0 ? (
                  <g>
                    <circle cx={mid} cy={y} r={3} fill="#111" />
                    <circle cx={mid - 0.9} cy={y - 0.9} r={1} fill="#a0a0a0" />
                  </g>
                ) : (
                  <g>
                    <line x1={d.lx1} x2={d.lx2} y1={y} y2={y} stroke={lineColors[i - 1]} strokeWidth={2} />
                    <Marker i={i - 1} x={mid} y={y} />
                  </g>
                )}
                <text x={d.tx} y={y} dominantBaseline="central"
                  style={{ ...base, fontSize: 9, fill: d.colored ? legendTextColors[i] : '#000' }}>
                  {name}
                </text>
              </g>
            );
          })}
          <text x={d.lbx} y={d.lby} dominantBaseline="central" style={{ ...base, fontSize: 13.5 }}>
            {d.label}
          </text>
        </g>
      ))}
    </svg>
  );
}

export default function App() {
  return (
    <div style={{ position: 'absolute', left: 0, top: 0, width: 720, height: 546, background: '#fff' }}>
      {panels.map((c, i) => (
        <Panel key={i} c={c} />
      ))}
      <Overlay />
    </div>
  );
}
